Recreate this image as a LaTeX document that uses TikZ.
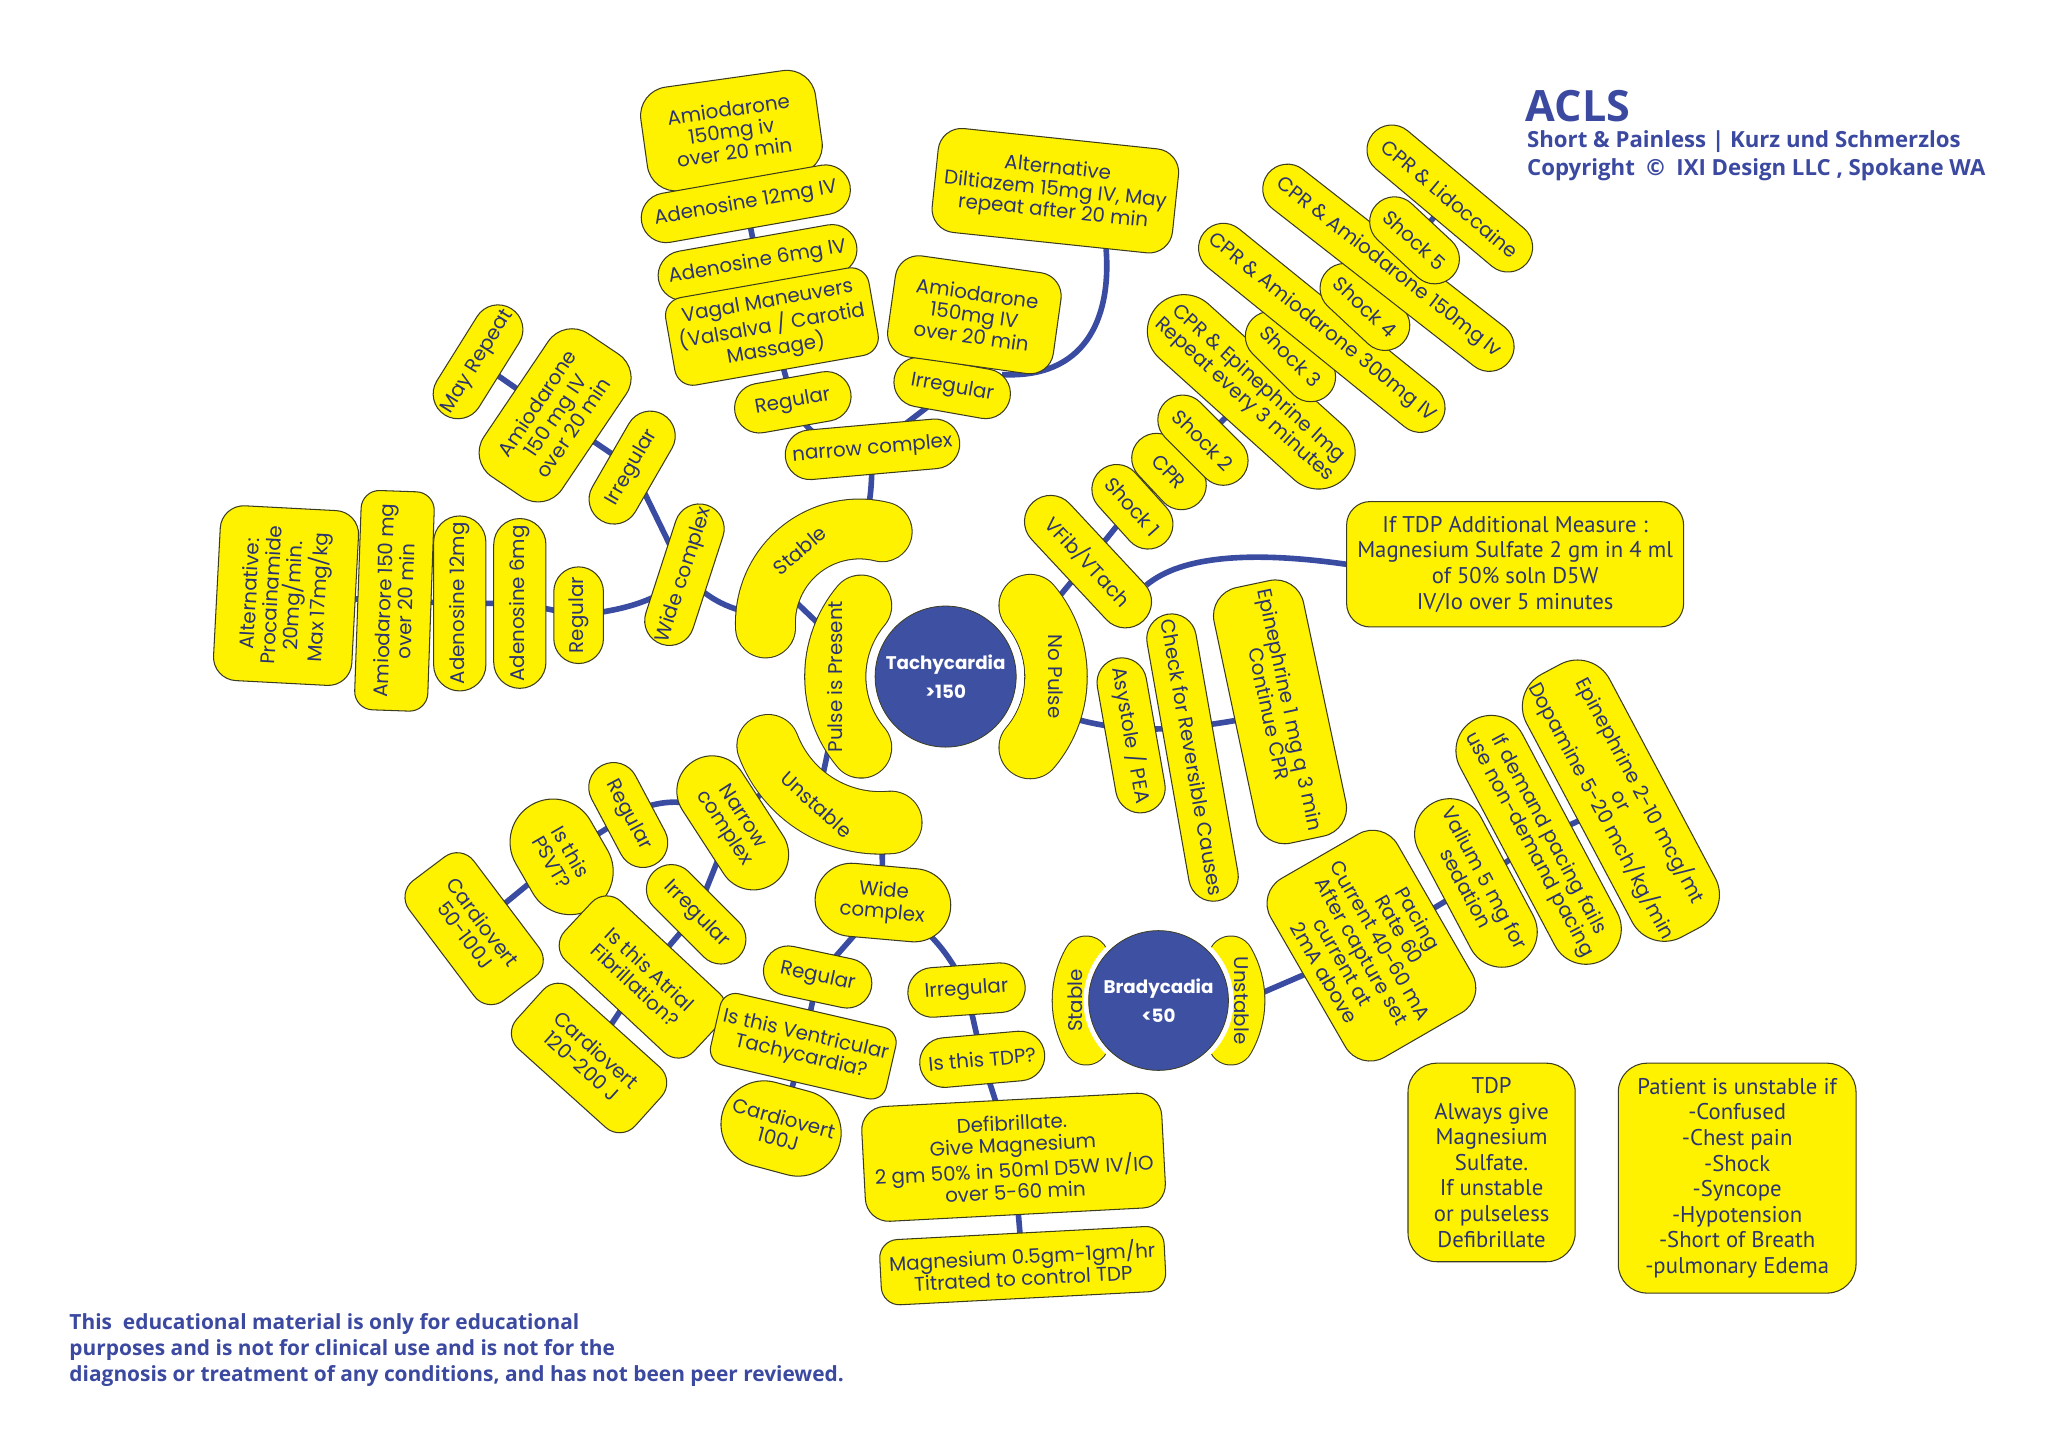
\documentclass[tikz,border=0pt]{standalone}
\usepackage{fontspec}
\setmainfont{Poppins}
\newfontfamily\popfont{Poppins}
\newfontfamily\ptfont{PT Sans}
\newfontfamily\osfont{Open Sans}
\usetikzlibrary{shapes.misc}
\definecolor{yl}{RGB}{255,242,0}
\definecolor{bd}{RGB}{60,60,30}
\definecolor{tx}{RGB}{44,52,112}
\definecolor{cn}{RGB}{58,76,162}
\definecolor{cb}{RGB}{62,80,162}
\definecolor{tb}{RGB}{59,73,160}
\pgfdeclarelayer{back}
\pgfdeclarelayer{bg}
\pgfsetlayers{back,bg,main}
\tikzset{
  base/.style={draw=bd, fill=yl, text=tx, line width=0.8pt, align=center,
    font=\popfont\fontsize{15.2}{16.6}\selectfont, inner sep=3pt},
  pill/.style={base, rounded rectangle, minimum height=38pt},
  rbox/.style={base, rectangle, rounded corners=16pt},
  condbox/.style={rbox, font=\ptfont\fontsize{17.4}{19.6}\selectfont},
  bandtext/.style={text=tx, font=\popfont\fontsize{15.2}{16.6}\selectfont, inner sep=0pt},
  hub/.style={circle, fill=cb, draw=bd, line width=0.6pt, text=white, align=center,
    font=\popfont\bfseries\fontsize{14}{22}\selectfont, inner sep=0pt},
  conn/.style={draw=cn, line width=4.3pt},
  ttl/.style={text=tb, inner sep=0pt, anchor=base west, font=\osfont\bfseries\fontsize{17}{20}\selectfont},
  dsc/.style={ttl, font=\osfont\bfseries\fontsize{16}{20}\selectfont}
}
% name, cx, cy, r, a1, a2 (visual degrees), thickness, text rotation, text
\newcommand\band[9]{%
  \draw[draw=bd, double=yl, double distance=#7pt, line width=0.8pt, line cap=round]
    (#2,#3) ++({-(#5)}:#4) arc[start angle={-(#5)}, end angle={-(#6)}, radius=#4];
  \path (#2,#3) ++({-((#5)+(#6))/2}:#4) node[bandtext, rotate=#8] (#1) {#9};
}
\begin{document}
\begin{tikzpicture}[x=1pt,y=-1pt]
\begin{pgfonlayer}{back}
\fill[white] (0,0) rectangle (1568,1108.6);
\end{pgfonlayer}
\useasboundingbox (0,0) rectangle (1568,1108.6);

% ---------- central bands and hubs ----------
\band{stable}{658}{477}{72}{76}{183}{45}{40}{Stable}
\band{unstable}{674}{538}{92}{201}{275}{47}{-42}{Unstable}
\band{pulse}{724}{518}{84.5}{140}{220}{46}{90}{Pulse is Present}
\band{nopulse}{724}{518}{84.5}{-40}{40}{47}{-90}{No Pulse}
\fill[white] (724,518) circle[radius=60];
\node[hub, minimum size=108pt] (tachy) at (724,518) {Tachycardia\\{>}150};

\band{bstable}{887}{766}{64}{150}{210}{34}{90}{Stable}
\band{bunstable}{887}{766}{64}{-30}{30}{34}{-90}{Unstable}
\fill[white] (887,766) circle[radius=57.5];
\node[hub, minimum size=107pt] (brady) at (887,766) {Bradycadia\\{<}50};

\coordinate (stableB) at (660,410);
\coordinate (stableA) at (590,470);
\coordinate (stableC) at (600,452);
\coordinate (pulseC) at (650,500);
\coordinate (pulseD) at (638,556);
\coordinate (unstD) at (626,612);
\coordinate (unstA) at (600,590);
\coordinate (unstB) at (675,624);
\coordinate (npR) at (815,548);
\coordinate (npT) at (800,470);
\coordinate (buR) at (948,768);

% ---------- narrow complex (stable) ----------
\node[rbox, rotate=8, minimum width=135pt, minimum height=80pt, rounded corners=22pt] (amioA) at (560,100) {Amiodarone\\150mg iv\\over 20 min};
\node[pill, rotate=10, minimum width=168pt] (adeA12) at (571,156) {Adenosine 12mg IV};
\node[pill, rotate=10, minimum width=160pt] (adeA6) at (580,201) {Adenosine 6mg IV};
\node[rbox, rotate=10, minimum width=158pt, minimum height=68pt, rounded corners=14pt] (vagal) at (591,250) {Vagal Maneuvers\\(Valsalva / Carotid\\Massage)};
\node[pill, rotate=10, minimum width=96pt] (regN) at (607,308) {Regular};
\node[pill, rotate=5, minimum width=140pt] (narrow) at (668,344) {narrow complex};
\node[pill, rotate=-10, minimum width=96pt] (irrN) at (729,297) {Irregular};
\node[rbox, rotate=-8, minimum width=128pt, minimum height=78pt, rounded corners=18pt] (amioB) at (746,241) {Amiodarone\\150mg IV\\over 20 min};
\node[rbox, rotate=-6, minimum width=185pt, minimum height=80pt, rounded corners=18pt] (dilt) at (808,146) {Alternative\\Diltiazem 15mg IV, May\\repeat after 20 min};

% ---------- wide complex (stable) ----------
\node[pill, rotate=72, minimum width=118pt] (wideS) at (524,440) {Wide complex};
\node[pill, rotate=60, minimum width=100pt] (irrW) at (484,358) {Irregular};
\node[rbox, rotate=56, minimum width=132pt, minimum height=72pt, rounded corners=22pt] (amioC) at (425,318) {Amiodarone\\150 mg IV\\over 20 min};
\node[pill, rotate=58, minimum width=102pt] (mayrep) at (366,277) {May Repeat};
\node[pill, rotate=90, minimum width=80pt] (regW) at (443,471) {Regular};
\node[pill, rotate=90, minimum width=136pt, minimum height=40pt] (ade6W) at (398,462) {Adenosine 6mg};
\node[pill, rotate=90, minimum width=140pt, minimum height=40pt] (ade12W) at (352,462) {Adenosine 12mg};
\node[rbox, rotate=88, minimum width=168pt, minimum height=56pt, rounded corners=14pt] (amioD) at (302,460) {Amiodarore 150 mg\\over 20 min};
\node[rbox, rotate=87, minimum width=134pt, minimum height=106pt, rounded corners=18pt] (procain) at (219,456) {Alternative:\\Procainamide\\20mg/min.\\Max 17mg/kg};

% ---------- no pulse ----------
\node[pill, rotate=-47, minimum width=130pt, minimum height=40pt] (vfib) at (833,430) {VFib/VTach};
\node[pill, rotate=-48, minimum width=80pt] (sh1) at (867,388) {Shock 1};
\node[pill, rotate=-47, minimum width=72pt] (cpr1) at (895,361) {CPR};
\node[pill, rotate=-45, minimum width=88pt] (sh2) at (921,337) {Shock 2};
\node[pill, rotate=-42, minimum width=192pt, minimum height=56pt] (cprepi) at (958,300) {CPR \& Epinephrine Img\\Repeat every 3 minutes};
\node[pill, rotate=-45, minimum width=88pt] (sh3) at (988,273) {Shock 3};
\node[pill, rotate=-39, minimum width=238pt] (cpram3) at (1012,251) {CPR \& Amiodarone 300mg IV};
\node[pill, rotate=-43, minimum width=86pt] (sh4) at (1045,235) {Shock 4};
\node[pill, rotate=-38, minimum width=240pt] (cpram1) at (1063,205) {CPR \& Amiodarone 150mg Iv};
\node[pill, rotate=-43, minimum width=86pt] (sh5) at (1083,184) {Shock 5};
\node[pill, rotate=-40, minimum width=160pt] (lido) at (1110,152) {CPR \& Lidoccaine};

\node[condbox, minimum width=258pt, minimum height=96pt, rounded corners=18pt] (tdpadd) at (1160,432) {If TDP Additional Measure :\\Magnesium Sulfate 2 gm in 4 ml\\of 50\% soln D5W\\IV/Io over 5 minutes};

\node[pill, rotate=-80, minimum width=126pt] (asys) at (866,563) {Asystole / PEA};
\node[pill, rotate=-80, minimum width=218pt] (check) at (913,580) {Check for Reversible Causes};
\node[rbox, rotate=-78, minimum width=200pt, minimum height=70pt, rounded corners=22pt] (epiC) at (980,545) {Epinephrine 1 mg q 3 min\\Continue CPR};

% ---------- bradycardia ----------
\node[rbox, rotate=-60, minimum width=158pt, minimum height=112pt, rounded corners=22pt] (pacing) at (1050,724) {Pacing\\Rate 60\\Current 40-60 mA\\After capture set\\current at\\2mA above};
\node[pill, rotate=-62, minimum width=145pt, minimum height=54pt] (valium) at (1130,676) {Valium 5 mg for\\sedation};
\node[pill, rotate=-62, minimum width=205pt, minimum height=54pt] (demand) at (1178,643) {If demand pacing fails\\use non-demand pacing};
\node[rbox, rotate=-62, minimum width=228pt, minimum height=72pt, rounded corners=28pt] (epiB) at (1241,613) {Epinephrine 2-10 mcg/mt\\or\\Dopamine 5-20 mch/kg/min};

% ---------- unstable ----------
\node[pill, rotate=-57, minimum width=118pt, minimum height=54pt] (narrowU) at (561,630) {Narrow\\complex};
\node[pill, rotate=-62, minimum width=92pt] (regU) at (481,624) {Regular};
\node[pill, rotate=-60, minimum width=98pt, minimum height=66pt] (psvt) at (430,656) {Is this\\PSVT?};
\node[rbox, rotate=-53, minimum width=115pt, minimum height=62pt, rounded corners=16pt] (cv50) at (363,711) {Cardiovert\\50-100J};
\node[pill, rotate=-45, minimum width=98pt] (irrU) at (533,700) {Irregular};
\node[rbox, rotate=-43, minimum width=135pt, minimum height=62pt, rounded corners=16pt] (afib) at (492,748) {Is this Atrial\\Fibrillation?};
\node[rbox, rotate=-42, minimum width=122pt, minimum height=62pt, rounded corners=16pt] (cv120) at (451,810) {Cardiovert\\120-200 J};
\node[pill, rotate=-5, minimum width=110pt, minimum height=56pt] (wideU) at (676,691) {Wide\\complex};
\node[pill, rotate=-12, minimum width=90pt] (regV) at (626,748) {Regular};
\node[rbox, rotate=-13, minimum width=138pt, minimum height=56pt, rounded corners=12pt] (vt) at (615,801) {Is this Ventricular\\Tachycardia?};
\node[pill, rotate=-15, minimum width=92pt, minimum height=66pt] (cv100) at (598,864) {Cardiovert\\100J};
\node[pill, rotate=4, minimum width=96pt] (irrV) at (740,758) {Irregular};
\node[pill, rotate=5, minimum width=102pt] (tdpq) at (752,811) {Is this TDP?};
\node[rbox, rotate=3, minimum width=230pt, minimum height=88pt, rounded corners=18pt] (defib) at (776,886) {Defibrillate.\\Give Magnesium\\2 gm 50\% in 50ml D5W IV/IO\\over 5-60 min};
\node[rbox, rotate=3, minimum width=218pt, minimum height=50pt, rounded corners=14pt] (mag) at (783,969) {Magnesium 0.5gm-1gm/hr\\Titrated to control TDP};

% ---------- notes ----------
\node[condbox, minimum width=128pt, minimum height=152pt, rounded corners=22pt] (tdpnote) at (1142,890) {TDP\\Always give\\Magnesium\\Sulfate.\\If unstable\\or pulseless\\Defibrillate};
\node[condbox, minimum width=182pt, minimum height=176pt, rounded corners=22pt] (unstnote) at (1330,902) {Patient is unstable if\\-Confused\\-Chest pain\\-Shock\\-Syncope\\-Hypotension\\-Short of Breath\\-pulmonary Edema};

\node[ttl, font=\osfont\bfseries\fontsize{33}{33}\selectfont] (acls) at (1168,93) {ACLS};
\node[ttl] (sub1) at (1169,113) {Short \& Painless | Kurz und Schmerzlos};
\node[ttl] (sub2) at (1169,134) {Copyright \ © \ IXI Design LLC , Spokane WA};
\node[dsc] (disc1) at (53,1018) {This \ educational material is only for educational};
\node[dsc] (disc2) at (53,1038) {purposes and is not for clinical use and is not for the};
\node[dsc] (disc3) at (53,1058) {diagnosis or treatment of any conditions, and has not been peer reviewed.};

% ---------- connectors ----------
\begin{pgfonlayer}{bg}
\draw[conn] (amioA.center) -- (adeA12.center) -- (adeA6.center) -- (vagal.center) -- (regN.center);
\draw[conn] (regN.center) .. controls (620,340) and (640,340) .. (narrow.center);
\draw[conn] (narrow.center) -- (irrN.center) -- (amioB.center);
\draw[conn] (irrN.25) .. controls (830,290) and (851,245) .. (dilt.-43);
\draw[conn] (narrow.center) .. controls (667,380) .. (stableB);
\draw[conn] (wideS.center) .. controls (545,462) and (565,470) .. (stableA);
\draw[conn] (wideS.center) -- (irrW.center) -- (amioC.center) -- (mayrep.center);
\draw[conn] (wideS.center) .. controls (505,462) and (470,468) .. (regW.center) -- (ade6W.center) -- (ade12W.center) -- (amioD.center) -- (procain.center);
\draw[conn] (stableC) -- (pulseC);
\draw[conn] (pulseD) -- (unstD);
\draw[conn] (npT) -- (vfib.center) -- (sh1.center) -- (cpr1.center) -- (sh2.center) -- (cprepi.center) -- (sh3.center) -- (cpram3.center) -- (sh4.center) -- (cpram1.center) -- (sh5.center) -- (lido.center);
\draw[conn] (vfib.25) .. controls (905,425) and (960,422) .. (tdpadd.west);
\draw[conn] (npR) .. controls (860,562) and (900,562) .. (epiC.center);
\draw[conn] (buR) -- (pacing.center) -- (valium.center) -- (demand.center) -- (epiB.center);
\draw[conn] (unstA) -- (narrowU.center);
\draw[conn] (narrowU.center) .. controls (535,610) and (505,610) .. (regU.center) -- (psvt.center) -- (cv50.center);
\draw[conn] (narrowU.center) -- (irrU.center) -- (afib.center) -- (cv120.center);
\draw[conn] (unstB) -- (wideU.center);
\draw[conn] (wideU.center) -- (regV.center) -- (vt.center) -- (cv100.center);
\draw[conn] (wideU.center) .. controls (705,705) and (725,725) .. (irrV.center) -- (tdpq.center) -- (defib.center) -- (mag.center);
\end{pgfonlayer}
\end{tikzpicture}
\end{document}
